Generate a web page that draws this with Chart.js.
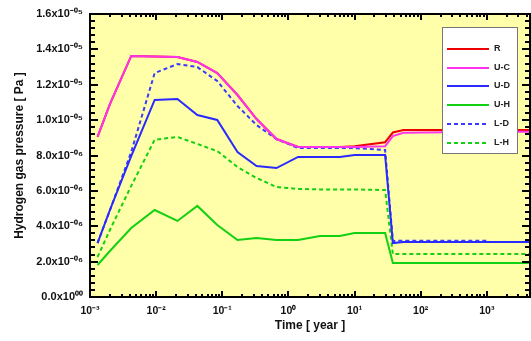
<!DOCTYPE html>
<html>
<head>
<meta charset="utf-8">
<script src="https://cdn.jsdelivr.net/npm/chart.js@4/dist/chart.umd.min.js"></script>
<style>
  html, body { margin: 0; padding: 0; background: #fff; }
</style>
</head>
<body>
<canvas id="chart" width="531" height="341"></canvas>
<script>
'use strict';

// ─── Data (time in years, pressure in Pa) ────────────────────────────────────
const times = [0.0013, 0.002, 0.0042, 0.0095, 0.021, 0.042, 0.084, 0.17, 0.33, 0.66,
               1.4, 3, 6, 10, 29, 38, 55, 1000, 4500];

const seriesR  = [9.05, 10.9, 13.63, 13.6, 13.57, 13.29, 12.66, 11.42, 10.06, 8.93,
                  8.48, 8.48, 8.48, 8.52, 8.75, 9.3, 9.44, 9.44, 9.44];
const seriesUC = [9.05, 10.9, 13.63, 13.6, 13.57, 13.29, 12.66, 11.42, 10.06, 8.93,
                  8.48, 8.48, 8.48, 8.48, 8.52, 9.1, 9.28, 9.34, 9.34];
const seriesUD = [3.05, 4.92, 7.97, 11.14, 11.19, 10.29, 10.01, 8.2, 7.41, 7.29,
                  7.92, 7.92, 7.92, 8.03, 8.03, 3.05, 3.11, 3.11, 3.11];
const seriesUH = [1.81, 2.6, 3.9, 4.92, 4.3, 5.15, 4.07, 3.22, 3.34, 3.22,
                  3.22, 3.45, 3.45, 3.62, 3.62, 1.92, 1.92, 1.92, 1.92];
const seriesLD = [3.05, 4.9, 8.2, 12.66, 13.17, 13.0, 12.21, 10.8, 9.72, 8.93,
                  8.42, 8.42, 8.42, 8.42, 8.31, 3.17, 3.18, 3.18, null];
const seriesLH = [2.26, 3.79, 6.28, 8.89, 9.05, 8.65, 8.25, 7.35, 6.73, 6.22,
                  6.11, 6.08, 6.08, 6.08, 6.05, 2.43, 2.43, 2.43, 2.43];

const seriesLabels = ['R', 'U-C', 'U-D', 'U-H', 'L-D', 'L-H'];

const xTickValues = [0.001, 0.01, 0.1, 1, 10, 100, 1000];
const xTickLabels = ['10⁻³', '10⁻²', '10⁻¹', '10⁰', '10¹', '10²', '10³'];
const yTickValues = [0, 2e-6, 4e-6, 6e-6, 8e-6, 1e-5, 1.2e-5, 1.4e-5, 1.6e-5];
const yTickLabels = ['0.0x10⁰⁰', '2.0x10⁻⁰⁶', '4.0x10⁻⁰⁶', '6.0x10⁻⁰⁶', '8.0x10⁻⁰⁶',
                     '1.0x10⁻⁰⁵', '1.2x10⁻⁰⁵', '1.4x10⁻⁰⁵', '1.6x10⁻⁰⁵'];

// ─── Helpers ─────────────────────────────────────────────────────────────────
const FONT = 'Liberation Sans, Arial, sans-serif';
const toPoints = (vals) => vals.map((v, i) => ({ x: times[i], y: v === null ? null : v * 1e-6 }));

function lineSet(label, vals, color, dashed, order) {
  return {
    label,
    data:        toPoints(vals),
    borderColor: color,
    borderWidth: 2,
    borderDash:  dashed ? [4, 3] : [],
    pointRadius: 0,
    tension:     0,
    spanGaps:    false,
    fill:        false,
    order,
  };
}

// ─── Plot background, frame and inward ticks ─────────────────────────────────
const framePlugin = {
  id: 'frame',
  beforeDatasetsDraw(chart) {
    const { ctx, chartArea: a } = chart;
    ctx.save();
    ctx.fillStyle = '#ffffaa';
    ctx.fillRect(a.left, a.top, a.right - a.left, a.bottom - a.top);
    ctx.restore();
  },
  afterDatasetsDraw(chart) {
    const { ctx, chartArea: a, scales } = chart;
    ctx.save();
    ctx.strokeStyle = '#000';
    ctx.lineWidth = 2;
    ctx.strokeRect(a.left, a.top, a.right - a.left, a.bottom - a.top);

    // y ticks: majors from the scale, 4 minors between each pair
    const ys = scales.y;
    const yt = ys.ticks.map(t => t.value);
    const yTick = (v, len) => {
      const py = Math.round(ys.getPixelForValue(v));
      ctx.beginPath();
      ctx.moveTo(a.left, py);  ctx.lineTo(a.left + len, py);
      ctx.moveTo(a.right, py); ctx.lineTo(a.right - len, py);
      ctx.stroke();
    };
    yt.forEach(v => yTick(v, 8));
    for (let i = 0; i < yt.length - 1; i++) {
      for (let k = 1; k < 5; k++) yTick(yt[i] + (yt[i + 1] - yt[i]) * k / 5, 5);
    }

    // x ticks: decades major, 2..9 minor
    const xs = scales.x;
    const xTick = (v, len) => {
      const px = Math.round(xs.getPixelForValue(v));
      ctx.beginPath();
      ctx.moveTo(px, a.bottom); ctx.lineTo(px, a.bottom - len);
      ctx.moveTo(px, a.top);    ctx.lineTo(px, a.top + len);
      ctx.stroke();
    };
    const d0 = Math.floor(Math.log10(xs.min));
    const d1 = Math.ceil(Math.log10(xs.max));
    for (let d = d0; d <= d1; d++) {
      for (let m = 1; m < 10; m++) {
        const v = m * Math.pow(10, d);
        if (v <= xs.min * 1.0001 || v >= xs.max * 0.9999) continue;
        xTick(v, m === 1 ? 6 : 3);
      }
    }
    ctx.restore();
  },
};

// ─── Legend box inside the plot ──────────────────────────────────────────────
const boxLegend = {
  id: 'boxLegend',
  afterDraw(chart) {
    const { ctx } = chart;
    const bx = 442, by = 27, bw = 75, bh = 126;
    ctx.save();
    ctx.fillStyle = '#fff';
    ctx.fillRect(bx, by, bw, bh);
    ctx.strokeStyle = '#777';
    ctx.lineWidth = 1;
    ctx.strokeRect(bx + 0.5, by + 0.5, bw, bh);

    ctx.font = 'bold 9px ' + FONT;
    ctx.textBaseline = 'middle';
    chart.data.datasets.forEach((ds, i) => {
      const y = Math.round(by + 22 + i * 18.7);
      ctx.strokeStyle = ds.borderColor;
      ctx.lineWidth = 2;
      ctx.setLineDash(ds.borderDash);
      ctx.beginPath();
      ctx.moveTo(bx + 5, y);
      ctx.lineTo(bx + 47, y);
      ctx.stroke();
      ctx.setLineDash([]);
      ctx.fillStyle = '#222';
      ctx.fillText(ds.label, bx + 52, y);
    });
    ctx.restore();
  },
};

// ─── Chart ───────────────────────────────────────────────────────────────────
new Chart(document.getElementById('chart'), {
  type: 'line',
  data: {
    datasets: [
      lineSet(seriesLabels[0], seriesR,  '#ee0000', false, 1),
      lineSet(seriesLabels[1], seriesUC, '#ff33ee', false, 0),
      lineSet(seriesLabels[2], seriesUD, '#2a2aff', false, 0),
      lineSet(seriesLabels[3], seriesUH, '#12d012', false, 0),
      lineSet(seriesLabels[4], seriesLD, '#3a3aff', true,  0),
      lineSet(seriesLabels[5], seriesLH, '#12d012', true,  0),
    ],
  },
  options: {
    responsive: false,
    animation:  false,
    layout: { padding: { left: 0, right: 1, top: 14, bottom: 0 } },
    plugins: {
      legend:  { display: false },
      tooltip: { enabled: false },
    },
    scales: {
      x: {
        type: 'logarithmic',
        min:  0.001,
        max:  4500,
        grid:   { display: false, drawTicks: false },
        border: { display: false },
        afterBuildTicks: (s) => { s.ticks = xTickValues.map(value => ({ value })); },
        afterFit: (s) => { s.height = 44; },
        ticks: {
          autoSkip: false,
          maxRotation: 0,
          padding: 8,
          color: '#111',
          font: { family: FONT, size: 10.5, weight: 'bold' },
          callback: (v, i) => xTickLabels[i],
        },
        title: {
          display: true,
          text: 'Time [ year ]',
          color: '#111',
          font: { family: FONT, size: 12, weight: 'bold' },
          padding: { top: 0, bottom: 8 },
        },
      },
      y: {
        min: 0,
        max: 1.6e-5,
        grid:   { display: false, drawTicks: false },
        border: { display: false },
        afterBuildTicks: (s) => { s.ticks = yTickValues.map(value => ({ value })); },
        afterFit: (s) => { s.width = 90; },
        ticks: {
          autoSkip: false,
          padding: 7,
          color: '#111',
          font: { family: FONT, size: 11, weight: 'bold' },
          callback: (v, i) => yTickLabels[i],
        },
        title: {
          display: true,
          text: 'Hydrogen gas pressure [ Pa ]',
          color: '#111',
          font: { family: FONT, size: 12, weight: 'bold' },
          padding: { top: 12, bottom: 0 },
        },
      },
    },
  },
  plugins: [framePlugin, boxLegend],
});
</script>
</body>
</html>
